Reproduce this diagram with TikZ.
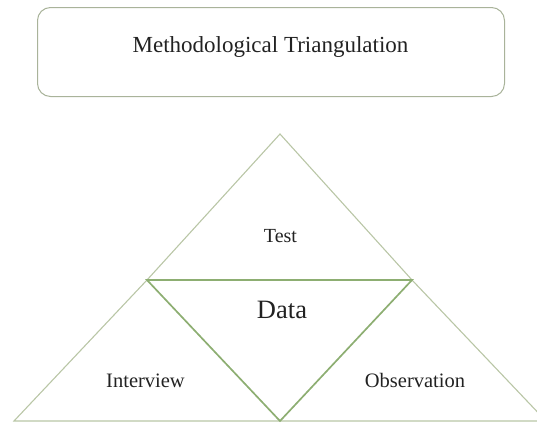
\documentclass[tikz,border=0pt]{standalone}
\usepackage{fontspec}
\setmainfont{Liberation Serif}
\begin{document}
\definecolor{boxline}{HTML}{A9B39A}
\definecolor{outerline}{HTML}{B9C6A6}
\definecolor{dataline}{HTML}{8DAE72}
\definecolor{inktext}{HTML}{222222}
\begin{tikzpicture}[x=1pt,y=-1pt,
  label/.style={text=inktext, inner sep=0pt, anchor=base},
  outer/.style={draw=outerline, line width=1.1pt, line join=miter},
  datatri/.style={draw=dataline, line width=1.7pt, line join=miter}]
\useasboundingbox (0,0) rectangle (537,423);
% title box
\node[draw=boxline, line width=1pt, rounded corners=13pt, minimum width=467pt, minimum height=89pt, inner sep=0pt] (title) at (271,52) {};
\node[label, font=\fontsize{23}{23}\selectfont] (titletext) at (270.5,52) {Methodological Triangulation};
% triangle corners
\coordinate (apex) at (280,134);
\coordinate (bl) at (147,280);
\coordinate (br) at (412,280);
\coordinate (ll) at (14,421);
\coordinate (mid) at (280,421);
\coordinate (rr) at (546,421);
% outer triangles
\draw[outer] (bl) -- (apex) -- (br);
\draw[outer] (bl) -- (ll) -- (rr) -- (br);
% central data triangle
\draw[datatri] (bl) -- (br) -- (mid) -- cycle;
% labels
\node[label, font=\fontsize{20}{20}\selectfont] (test) at (280.5,242) {Test};
\node[label, font=\fontsize{26.5}{26.5}\selectfont] (data) at (282,318) {Data};
\node[label, font=\fontsize{20.5}{20.5}\selectfont] (interview) at (145.5,387) {Interview};
\node[label, font=\fontsize{20.5}{20.5}\selectfont] (observation) at (415,387) {Observation};
\end{tikzpicture}
\end{document}
